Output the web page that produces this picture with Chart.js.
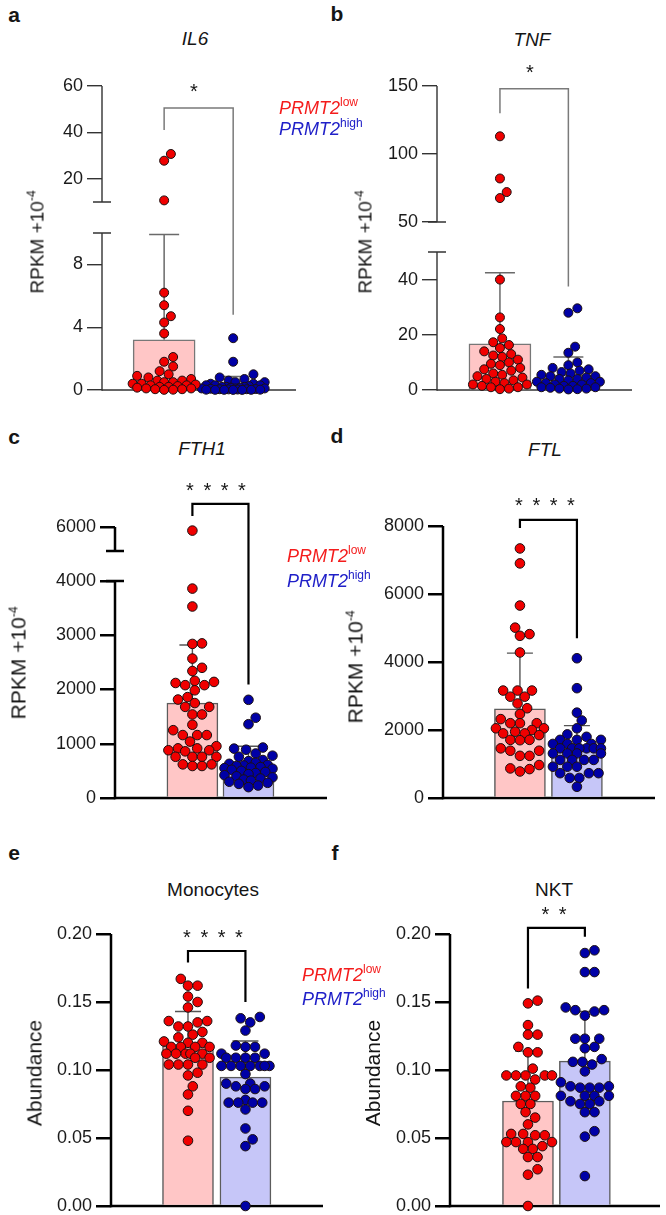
<!DOCTYPE html>
<html>
<head>
<meta charset="utf-8">
<script src="https://cdn.jsdelivr.net/npm/chart.js@4.4.1/dist/chart.umd.min.js"></script>
<style>
  html, body { margin: 0; padding: 0; background: #fff; overflow: hidden; }
  #fig { position: relative; width: 666px; height: 1215px; font-family: "Liberation Sans", Arial, sans-serif; color: #151515; }
  #fig canvas { position: absolute; }
  .t { position: absolute; white-space: nowrap; line-height: 1; transform: translate(-50%, -50%); }
  .letter { font-weight: bold; font-size: 21px; }
  .title { font-size: 19px; }
  .it { font-style: italic; }
  .star { font-size: 20px; letter-spacing: 2px; }
  .ylab { font-size: 19px; transform: translate(-50%, -50%) rotate(-90deg); }
  .ylab.big { font-size: 21px; }
  .ylab sup { font-size: 12px; vertical-align: 8px; }
  .leg { position: absolute; white-space: nowrap; line-height: 1; transform: translateY(-50%); font-style: italic; font-size: 18px; }
  .leg sup { font-size: 12px; vertical-align: 8px; font-style: normal; }
</style>
</head>
<body>
<div id="fig"></div>
<script>
// ---- values ----
const groups = ["PRMT2low", "PRMT2high"];

const il6Low = [30.7, 27.8, 10.7, 6.2, 5.4, 4.7, 4.3, 3.6, 2.1, 1.8, 1.5, 1.2, 1.0, 0.9, 0.8, 0.7, 0.6, 0.6,
  0.5, 0.5, 0.4, 0.4, 0.35, 0.3, 0.3, 0.25, 0.2, 0.2, 0.15, 0.1, 0.1, 0.05, 0.05, 0.02, 0.01];
const il6High = [3.3, 1.8, 1.0, 0.8, 0.7, 0.6, 0.5, 0.5, 0.4, 0.4, 0.3, 0.3, 0.3, 0.25, 0.2, 0.2, 0.2, 0.15,
  0.15, 0.1, 0.1, 0.1, 0.08, 0.06, 0.05, 0.05, 0.04, 0.03, 0.02, 0.02, 0.01, 0.01, 0.01, 0.005, 0.005];
const il6Mean = [3.2, 0.36];
const il6Sd = [6.7, 0.5];
const il6Ticks = [0, 4, 8, 20, 40, 60];

const tnfLow = [113, 82, 72, 67.6, 40, 26.3, 22.1, 18.7, 17.3, 16.3, 15.2, 14, 13, 12.5, 12, 11, 10, 9.5, 9,
  8, 7.5, 7, 6, 5.5, 5, 4.5, 4, 3.5, 3, 2.5, 2, 2, 1.5, 1, 1, 0.5, 0.3];
const tnfHigh = [29.6, 28, 15.7, 13.5, 10, 9, 8, 7.5, 7, 6.5, 6, 5.5, 5, 5, 4.5, 4, 4, 3.5, 3, 3, 2.5, 2.5,
  2, 2, 1.5, 1.5, 1, 1, 0.8, 0.5, 0.5, 0.3, 0.2];
const tnfMean = [16.7, 5.5];
const tnfSd = [25.8, 6.5];
const tnfTicks = [0, 20, 40, 50, 100, 150];

const fth1Low = [5850, 3860, 3530, 2850, 2840, 2570, 2400, 2340, 2160, 2140, 2120, 2080, 2080, 1985, 1860,
  1815, 1750, 1680, 1680, 1540, 1540, 1350, 1250, 1160, 1160, 1160, 1040, 955, 915, 915, 880, 880, 860,
  760, 760, 760, 760, 620, 590, 620, 590];
const fth1High = [1810, 1480, 1360, 930, 910, 890, 820, 780, 760, 700, 680, 650, 630, 610, 600, 590, 570,
  560, 550, 540, 520, 500, 480, 460, 440, 420, 400, 380, 360, 340, 320, 300, 280, 260, 230, 200];
const fth1Mean = [1750, 550];
const fth1Sd = [1070, 405];
const fth1Ticks = [0, 1000, 2000, 3000, 4000, 6000];

const ftlLow = [7340, 6900, 5660, 5010, 4820, 4770, 4280, 3160, 3160, 3160, 2980, 2980, 2780, 2640, 2470,
  2320, 2200, 2200, 2200, 2050, 2050, 2000, 1950, 1900, 1850, 1900, 1710, 1710, 1700, 1460, 1390, 1390,
  1240, 1240, 970, 870, 850, 780];
const ftlHigh = [4110, 3230, 2510, 2280, 2050, 1870, 1800, 1710, 1710, 1710, 1590, 1590, 1590, 1460, 1460,
  1460, 1460, 1460, 1460, 1310, 1310, 1310, 1310, 1120, 1120, 1120, 1120, 920, 920, 920, 730, 730, 730,
  590, 590, 330];
const ftlMean = [2620, 1420];
const ftlSd = [1640, 710];
const ftlTicks = [0, 2000, 4000, 6000, 8000];

const monoLow = [0.167, 0.162, 0.162, 0.154, 0.150, 0.146, 0.136, 0.136, 0.135, 0.132, 0.132, 0.128, 0.126,
  0.124, 0.121, 0.120, 0.120, 0.117, 0.117, 0.117, 0.117, 0.112, 0.112, 0.112, 0.112, 0.112, 0.109, 0.109,
  0.104, 0.104, 0.104, 0.104, 0.098, 0.096, 0.088, 0.082, 0.070, 0.048];
const monoHigh = [0.139, 0.138, 0.135, 0.129, 0.118, 0.117, 0.117, 0.112, 0.112, 0.109, 0.109, 0.109, 0.109,
  0.103, 0.103, 0.103, 0.103, 0.103, 0.103, 0.103, 0.097, 0.090, 0.090, 0.088, 0.088, 0.086, 0.086, 0.078,
  0.076, 0.076, 0.076, 0.076, 0.071, 0.057, 0.049, 0.044, 0.000];
const monoMean = [0.1176, 0.0948];
const monoSd = [0.0254, 0.0265];

const nktLow = [0.151, 0.149, 0.133, 0.126, 0.126, 0.117, 0.113, 0.113, 0.101, 0.096, 0.096, 0.096, 0.096,
  0.096, 0.093, 0.088, 0.087, 0.081, 0.081, 0.081, 0.075, 0.075, 0.069, 0.065, 0.060, 0.053, 0.053, 0.052,
  0.052, 0.047, 0.047, 0.047, 0.047, 0.042, 0.044, 0.042, 0.036, 0.036, 0.027, 0.023, 0.000];
const nktHigh = [0.188, 0.186, 0.172, 0.172, 0.146, 0.143, 0.144, 0.144, 0.140, 0.123, 0.123, 0.123, 0.117,
  0.116, 0.108, 0.106, 0.106, 0.104, 0.099, 0.091, 0.087, 0.088, 0.088, 0.087, 0.087, 0.081, 0.081, 0.081,
  0.081, 0.077, 0.077, 0.075, 0.075, 0.069, 0.069, 0.055, 0.051, 0.022];
const nktMean = [0.0772, 0.1065];
const nktSd = [0.0368, 0.0365];

const abundTicks = [0, 0.05, 0.10, 0.15, 0.20];

// significance brackets: [left foot, top, right foot] in axis values
const il6Bracket = [41, 50.5, 4.8];
const tnfBracket = [130, 148, 37.5];
const fth1Bracket = [6460, 6960, 2090];
const ftlBracket = [7940, 8180, 4700];
const monoBracket = [0.179, 0.1875, 0.150];
const nktBracket = [0.160, 0.2045, 0.198];

// ---- look ----
const RED_DOT = "#f00000", BLUE_DOT = "#0000a6";
const RED_BAR = "#ffc6c6", BLUE_BAR = "#c6c6f8";
const thin = { axisColor: "#333", axisW: 1.4, bracketColor: "#7a7a7a", bracketW: 1.5, errColor: "#6a6a6a", errW: 1.5, barBorder: "#777", barW: 62, cap: 15, r: 4.5, spread: 33 };
const bold = { axisColor: "#000", axisW: 2.5, bracketColor: "#000", bracketW: 2.2, errColor: "#555", errW: 1.4, barBorder: "#5c5c5c", barW: 51, cap: 13, r: 4.8, spread: 26 };

const panels = [
  { ...thin, canvas: [0, 60, 333, 350], axisX: 102, right: 296, top: 86, bottom: 390, xRange: [0.10, 2.91],
    segs: [{ lo: 0, hi: 10, len: 157 }, { lo: 10, hi: 60, len: 116 }], gap: 31,
    ticks: il6Ticks, fmt: v => String(v), low: il6Low, high: il6High, mean: il6Mean, sd: il6Sd, bracket: il6Bracket },
  { ...thin, canvas: [333, 60, 333, 350], axisX: 437, right: 632, top: 86, bottom: 390, xRange: [0.08, 2.93],
    segs: [{ lo: 0, hi: 50, len: 138 }, { lo: 50, hi: 150, len: 136 }], gap: 30,
    ticks: tnfTicks, fmt: v => String(v), low: tnfLow, high: tnfHigh, mean: tnfMean, sd: tnfSd, bracket: tnfBracket },
  { ...bold, canvas: [0, 490, 333, 330], axisX: 115, right: 327, top: 527, bottom: 798, xRange: [-0.38, 3.40],
    segs: [{ lo: 0, hi: 4000, len: 217 }, { lo: 5000, hi: 6000, len: 24 }], gap: 30,
    ticks: fth1Ticks, fmt: v => String(v), low: fth1Low, high: fth1High, mean: fth1Mean, sd: fth1Sd, bracket: fth1Bracket },
  { ...bold, canvas: [333, 490, 333, 330], axisX: 443, right: 655, top: 526, bottom: 798, xRange: [-0.35, 3.37],
    segs: [{ lo: 0, hi: 8000, len: 272 }], gap: 0,
    ticks: ftlTicks, fmt: v => String(v), low: ftlLow, high: ftlHigh, mean: ftlMean, sd: ftlSd, bracket: ftlBracket },
  { ...bold, canvas: [0, 900, 333, 325], axisX: 111, right: 323, top: 934, bottom: 1206, xRange: [-0.34, 3.35],
    segs: [{ lo: 0, hi: 0.2, len: 272 }], gap: 0,
    ticks: abundTicks, fmt: v => v.toFixed(2), low: monoLow, high: monoHigh, mean: monoMean, sd: monoSd, bracket: monoBracket },
  { ...bold, canvas: [333, 900, 333, 325], axisX: 450, right: 660, top: 934, bottom: 1206, xRange: [-0.37, 3.32],
    segs: [{ lo: 0, hi: 0.2, len: 272 }], gap: 0,
    ticks: abundTicks, fmt: v => v.toFixed(2), low: nktLow, high: nktHigh, mean: nktMean, sd: nktSd, bracket: nktBracket }
];

Chart.defaults.font.family = '"Liberation Sans", Arial, sans-serif';
const fig = document.getElementById("fig");

// broken axis: each segment gets its own length, value -> axis units
function axisMap(segs, gap) {
  let start = 0;
  const spans = segs.map(s => {
    const sp = { ...s, a: start, b: start + s.len };
    start += s.len + gap;
    return sp;
  });
  const total = start - gap;
  const map = v => {
    let s = spans[0];
    spans.forEach(sp => { if (v >= sp.lo) s = sp; });
    return s.a + (v - s.lo) / (s.hi - s.lo) * (s.b - s.a);
  };
  return { spans, total, map };
}

// simple beeswarm so dots do not pile on each other
function swarm(chart, center, values, map, r, maxHalf) {
  const xs = chart.scales.x, ys = chart.scales.y;
  const perUnit = xs.getPixelForValue(1) - xs.getPixelForValue(0);
  const step = r * 0.5;
  const placed = [];
  const out = new Array(values.length);
  const order = values.map((v, i) => i).sort((a, b) => values[a] - values[b]);
  order.forEach(i => {
    const py = ys.getPixelForValue(map(values[i]));
    let best = 0, bestD = -1;
    for (let k = 0; ; k++) {
      const off = (k % 2 ? 1 : -1) * Math.ceil(k / 2) * step;
      if (Math.abs(off) > maxHalf) break;
      let d = Infinity;
      placed.forEach(q => { d = Math.min(d, Math.hypot(q.x - off, q.y - py)); });
      if (d >= 2 * r * 0.95) { best = off; break; }
      if (d > bestD) { bestD = d; best = off; }
    }
    placed.push({ x: best, y: py });
    out[i] = { x: center + best / perUnit, y: map(values[i]) };
  });
  return out;
}

function decor(p, ax) {
  return {
    id: "decor",
    beforeDatasetsDraw(chart) {
      const { ctx, chartArea: ca, scales: { y } } = chart;
      ctx.save();
      ctx.strokeStyle = p.axisColor;
      ctx.lineWidth = p.axisW;
      ax.spans.forEach((s, i) => {
        const ya = y.getPixelForValue(s.a), yb = y.getPixelForValue(s.b);
        ctx.beginPath();
        ctx.moveTo(ca.left, i === 0 ? ya + p.axisW / 2 : ya);
        ctx.lineTo(ca.left, yb);
        if (i > 0) { ctx.moveTo(ca.left - 9, ya); ctx.lineTo(ca.left + 9, ya); }
        if (i < ax.spans.length - 1) { ctx.moveTo(ca.left - 9, yb); ctx.lineTo(ca.left + 9, yb); }
        ctx.stroke();
      });
      ctx.beginPath();
      ctx.moveTo(ca.left, ca.bottom);
      ctx.lineTo(ca.right, ca.bottom);
      ctx.stroke();
      ctx.restore();
    },
    afterDatasetDraw(chart, args) {
      if (args.index !== 0) return;
      const { ctx, scales: { x, y } } = chart;
      ctx.save();
      ctx.strokeStyle = p.errColor;
      ctx.lineWidth = p.errW;
      p.mean.forEach((m, i) => {
        const cx = x.getPixelForValue(i + 1);
        const y0 = y.getPixelForValue(ax.map(m)), y1 = y.getPixelForValue(ax.map(m + p.sd[i]));
        ctx.beginPath();
        ctx.moveTo(cx, y0); ctx.lineTo(cx, y1);
        ctx.moveTo(cx - p.cap, y1); ctx.lineTo(cx + p.cap, y1);
        ctx.stroke();
      });
      ctx.restore();
    },
    afterDraw(chart) {
      const { ctx, scales: { x, y } } = chart;
      const b = p.bracket;
      const x1 = x.getPixelForValue(1), x2 = x.getPixelForValue(2);
      ctx.save();
      ctx.strokeStyle = p.bracketColor;
      ctx.lineWidth = p.bracketW;
      ctx.beginPath();
      ctx.moveTo(x1, y.getPixelForValue(ax.map(b[0])));
      ctx.lineTo(x1, y.getPixelForValue(ax.map(b[1])));
      ctx.lineTo(x2, y.getPixelForValue(ax.map(b[1])));
      ctx.lineTo(x2, y.getPixelForValue(ax.map(b[2])));
      ctx.stroke();
      ctx.restore();
    }
  };
}

panels.forEach(p => {
  const ax = axisMap(p.segs, p.gap);
  const [cx, cy, cw, ch] = p.canvas;
  const cv = document.createElement("canvas");
  cv.width = cw; cv.height = ch;
  cv.style.left = cx + "px"; cv.style.top = cy + "px";
  fig.appendChild(cv);

  const dots = (vals, c, fill) => ({
    type: "scatter", order: 1, clip: false,
    data: vals.map(v => ({ x: c, y: ax.map(v) })),
    pointRadius: p.r, pointHoverRadius: p.r,
    pointBackgroundColor: fill, pointBorderColor: "#1c1010", pointBorderWidth: 1
  });

  const chart = new Chart(cv, {
    type: "bar",
    data: {
      datasets: [
        {
          type: "bar", order: 2, clip: false,
          data: p.mean.map((m, i) => ({ x: i + 1, y: ax.map(m) })),
          backgroundColor: [RED_BAR, BLUE_BAR],
          borderColor: p.barBorder, borderWidth: 1.5,
          barThickness: p.barW
        },
        dots(p.low, 1, RED_DOT),
        dots(p.high, 2, BLUE_DOT)
      ]
    },
    options: {
      responsive: false,
      animation: false,
      devicePixelRatio: 1,
      events: [],
      layout: { padding: { left: 0, right: cx + cw - p.right, top: p.top - cy, bottom: cy + ch - p.bottom } },
      plugins: { legend: { display: false }, tooltip: { enabled: false } },
      scales: {
        x: { type: "linear", display: false, offset: false, min: p.xRange[0], max: p.xRange[1] },
        y: {
          type: "linear", min: 0, max: ax.total,
          afterFit: s => { s.width = p.axisX - cx; },
          afterBuildTicks: s => { s.ticks = p.ticks.map(v => ({ value: ax.map(v) })); },
          ticks: { autoSkip: false, padding: 4, color: "#1a1a1a", font: { size: 18 }, callback: (v, i) => p.fmt(p.ticks[i]) },
          grid: { drawOnChartArea: false, drawTicks: true, tickLength: 15, color: p.axisColor, lineWidth: p.axisW },
          border: { display: false }
        }
      }
    },
    plugins: [decor(p, ax)]
  });

  chart.data.datasets[1].data = swarm(chart, 1, p.low, ax.map, p.r, p.spread);
  chart.data.datasets[2].data = swarm(chart, 2, p.high, ax.map, p.r, p.spread);
  chart.update("none");
});

// ---- text ----
function addText(html, x, y, cls) {
  const d = document.createElement("div");
  d.className = cls;
  d.innerHTML = html;
  d.style.left = x + "px";
  d.style.top = y + "px";
  fig.appendChild(d);
}
const legendHtml = g => g.replace(/(low|high)$/, "<sup>$1</sup>");

[["a", 14, 14], ["b", 337, 13], ["c", 14, 436], ["d", 337, 435], ["e", 14, 852], ["f", 335, 852]]
  .forEach(([s, x, y]) => addText(s, x, y, "t letter"));

addText("IL6", 195, 38, "t title it");
addText("TNF", 532, 39, "t title it");
addText("FTH1", 202, 448, "t title it");
addText("FTL", 545, 449, "t title it");
addText("Monocytes", 213, 889, "t title");
addText("NKT", 554, 889, "t title");

addText("*", 195, 91, "t star");
addText("*", 531, 72, "t star");
addText("* * * *", 217, 490, "t star");
addText("* * * *", 546, 505, "t star");
addText("* * * *", 214, 937, "t star");
addText("* *", 555, 914, "t star");

const yl = "RPKM +10<sup>-4</sup>";
addText(yl, 36, 242, "t ylab");
addText(yl, 364, 242, "t ylab");
addText(yl, 18, 663, "t ylab big");
addText(yl, 355, 667, "t ylab big");
addText("Abundance", 34, 1073, "t ylab big");
addText("Abundance", 372, 1073, "t ylab big");

[[279, 106, 127], [287, 554, 579], [302, 973, 997]].forEach(([x, y1, y2]) => {
  addText(legendHtml(groups[0]), x, y1, "leg");
  addText(legendHtml(groups[1]), x, y2, "leg");
});
document.querySelectorAll(".leg").forEach((el, i) => { el.style.color = i % 2 ? "#2020c8" : "#f41c1c"; });
</script>
</body>
</html>
